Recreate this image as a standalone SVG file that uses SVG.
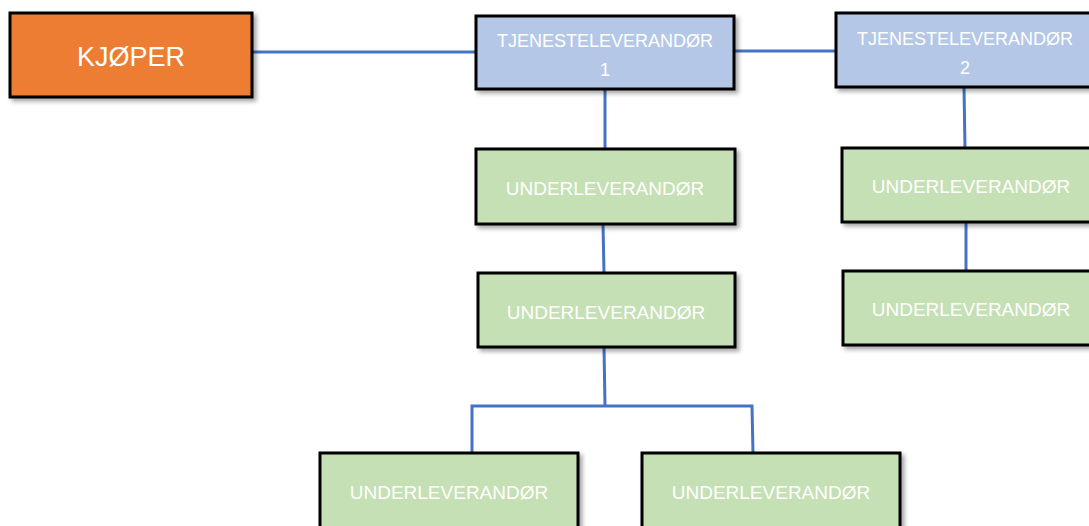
<svg xmlns="http://www.w3.org/2000/svg" width="1089" height="526" viewBox="0 0 1089 526">
<style>
.box{stroke:#000;stroke-width:3;filter:url(#sh)}
.buyer{fill:#ED7D31}
.prov{fill:#B4C7E7}
.sub{fill:#C5E0B4}
.t{font-family:"Liberation Sans",Arial,sans-serif;fill:#fff;text-anchor:middle}
.ts{font-size:19px}
.tp{font-size:18px}
.con{stroke:#4472C4;stroke-width:3;fill:none}
</style>
<defs>
<filter id="sh" x="-10%" y="-10%" width="130%" height="140%">
<feDropShadow dx="3" dy="3" stdDeviation="2" flood-color="#000" flood-opacity="0.35"/>
</filter>
</defs>
<rect width="1089" height="526" fill="#fff"/>
<g id="connectors">
<line class="con" x1="252" y1="52" x2="476" y2="52"/>
<line class="con" x1="734" y1="51" x2="836" y2="51"/>
<line class="con" x1="605" y1="89" x2="605" y2="149"/>
<line class="con" x1="603" y1="224" x2="604" y2="273"/>
<polyline class="con" points="604,347 605,406"/>
<polyline class="con" points="472,453 472,406 752,406 753,453"/>
<line class="con" x1="964" y1="87" x2="965" y2="148"/>
<line class="con" x1="966" y1="222" x2="966" y2="271"/>
</g>
<g id="kjoper">
<rect class="box buyer" x="10" y="13" width="242" height="84"/>
<text class="t" x="131" y="66" font-size="27">KJØPER</text>
</g>
<g id="tjl1">
<rect class="box prov" x="476" y="16" width="258" height="73"/>
<text class="t tp" x="605" y="47">TJENESTELEVERANDØR</text>
<text class="t tp" x="605" y="76">1</text>
</g>
<g id="tjl2">
<rect class="box prov" x="836" y="13" width="262" height="74"/>
<text class="t tp" x="965" y="45">TJENESTELEVERANDØR</text>
<text class="t tp" x="965" y="74">2</text>
</g>
<g id="ul1">
<rect class="box sub" x="476" y="149" width="259" height="75"/>
<text class="t ts" x="605" y="195">UNDERLEVERANDØR</text>
</g>
<g id="ul2">
<rect class="box sub" x="478" y="273" width="257" height="74"/>
<text class="t ts" x="606" y="319">UNDERLEVERANDØR</text>
</g>
<g id="ul3">
<rect class="box sub" x="842" y="148" width="256" height="74"/>
<text class="t ts" x="971" y="193">UNDERLEVERANDØR</text>
</g>
<g id="ul4">
<rect class="box sub" x="843" y="271" width="256" height="74"/>
<text class="t ts" x="971" y="316">UNDERLEVERANDØR</text>
</g>
<g id="ul5">
<rect class="box sub" x="320" y="453" width="258" height="85"/>
<text class="t ts" x="449" y="499">UNDERLEVERANDØR</text>
</g>
<g id="ul6">
<rect class="box sub" x="642" y="453" width="258" height="85"/>
<text class="t ts" x="771" y="499">UNDERLEVERANDØR</text>
</g>
</svg>
